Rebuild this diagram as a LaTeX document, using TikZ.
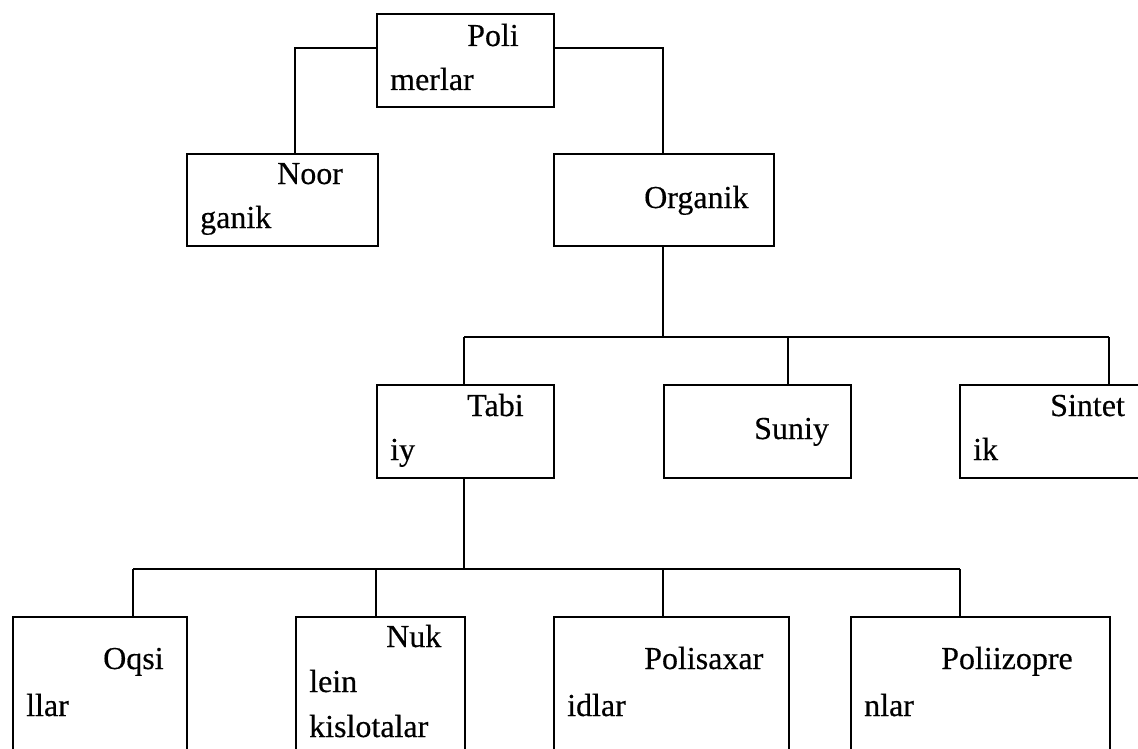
\documentclass[tikz,border=0pt]{standalone}
\usepackage{fontspec}
\setmainfont{Liberation Serif}
\newfontfamily\boxfont{Liberation Serif}[FakeBold=0.4]
\begin{document}
\begin{tikzpicture}[x=1pt,y=-1pt,
  box/.style={draw, line width=2pt, inner sep=0pt, anchor=north west},
  txt/.style={anchor=base west, inner sep=0pt, font=\boxfont\fontsize{32}{44}\selectfont},
  conn/.style={line width=2pt}]
\useasboundingbox (0,0) rectangle (1138,749);
\clip (0,0) rectangle (1138,749);
% boxes
\node[box, minimum width=177pt, minimum height=93pt] (poli) at (376,13) {};
\node[box, minimum width=191pt, minimum height=92pt] (noor) at (186,153) {};
\node[box, minimum width=220pt, minimum height=92pt] (org) at (553,153) {};
\node[box, minimum width=177pt, minimum height=93pt] (tabi) at (376,384) {};
\node[box, minimum width=187pt, minimum height=93pt] (suni) at (663,384) {};
\node[box, minimum width=195pt, minimum height=93pt] (sint) at (959,384) {};
\node[box, minimum width=174pt, minimum height=200pt] (oqsi) at (12,616) {};
\node[box, minimum width=169pt, minimum height=200pt] (nuk) at (295,616) {};
\node[box, minimum width=235pt, minimum height=200pt] (psax) at (553,616) {};
\node[box, minimum width=259pt, minimum height=200pt] (pizo) at (850,616) {};
% texts
\node[txt] (poliA) at ([shift={(91,33)}]poli.north west) {Poli};
\node[txt] (poliB) at ([shift={(14,77)}]poli.north west) {merlar};
\node[txt] (noorA) at ([shift={(91,31)}]noor.north west) {Noor};
\node[txt] (noorB) at ([shift={(14,75)}]noor.north west) {ganik};
\node[txt] (orgA) at ([shift={(91,55)}]org.north west) {Organik};
\node[txt] (tabiA) at ([shift={(91,32)}]tabi.north west) {Tabi};
\node[txt] (tabiB) at ([shift={(14,76)}]tabi.north west) {iy};
\node[txt] (suniA) at ([shift={(91,55)}]suni.north west) {Suniy};
\node[txt] (sintA) at ([shift={(91,32)}]sint.north west) {Sintet};
\node[txt] (sintB) at ([shift={(14,76)}]sint.north west) {ik};
\node[txt] (oqsiA) at ([shift={(91,53)}]oqsi.north west) {Oqsi};
\node[txt] (oqsiB) at ([shift={(14,100)}]oqsi.north west) {llar};
\node[txt] (nukA) at ([shift={(91,31)}]nuk.north west) {Nuk};
\node[txt] (nukB) at ([shift={(14,76)}]nuk.north west) {lein};
\node[txt] (nukC) at ([shift={(14,121)}]nuk.north west) {kislotalar};
\node[txt] (psaxA) at ([shift={(91,53)}]psax.north west) {Polisaxar};
\node[txt] (psaxB) at ([shift={(14,100)}]psax.north west) {idlar};
\node[txt] (pizoA) at ([shift={(91,53)}]pizo.north west) {Poliizopre};
\node[txt] (pizoB) at ([shift={(14,100)}]pizo.north west) {nlar};
% junction coordinates
\coordinate (jl) at (295,48);
\coordinate (jr) at (663,48);
\coordinate (ba) at (663,337);
\coordinate (bt) at (464,337);
\coordinate (bs) at (788,337);
\coordinate (bn) at (1109,337);
\coordinate (ca) at (464,569);
\coordinate (c1) at (133,569);
\coordinate (c2) at (376,569);
\coordinate (c3) at (663,569);
\coordinate (c4) at (960,569);
% connectors
\draw[conn] (poli.west |- jl) -| (noor.north -| jl);
\draw[conn] (poli.east |- jr) -| (org.north -| jr);
\draw[conn] (org.south -| ba) -- (ba);
\draw[conn] (bt) -- (bn);
\draw[conn] (bt) -- (tabi.north -| bt);
\draw[conn] (bs) -- (suni.north -| bs);
\draw[conn] (bn) -- (sint.north -| bn);
\draw[conn] (tabi.south -| ca) -- (ca);
\draw[conn] (c1) -- (c4);
\draw[conn] (c1) -- (oqsi.north -| c1);
\draw[conn] (c2) -- (nuk.north -| c2);
\draw[conn] (c3) -- (psax.north -| c3);
\draw[conn] (c4) -- (pizo.north -| c4);
\end{tikzpicture}
\end{document}
